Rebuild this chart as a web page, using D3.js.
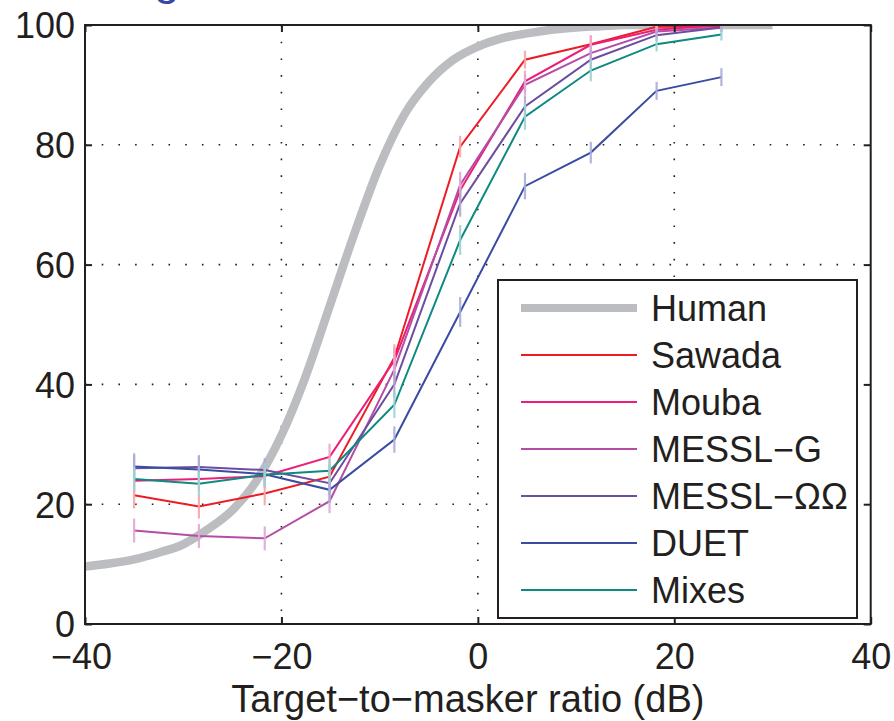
<!DOCTYPE html>
<html>
<head>
<meta charset="utf-8">
<script src="https://cdn.jsdelivr.net/npm/d3@7/dist/d3.min.js"></script>
<style>
  html, body { margin: 0; padding: 0; background: #fff; }
  svg text { font-family: "Liberation Sans", Arial, Helvetica, sans-serif; fill: #231f20; }
</style>
</head>
<body>
<svg id="chart" width="894" height="721"></svg>
<script>
// ---- data ----
const tmr = [-35, -28.4, -21.7, -15.1, -8.5, -1.8, 4.8, 11.5, 18.2, 24.8];
const sawada  = [21.5, 19.6, 21.8, 24.6, 44.5, 79.7, 94.2, 96.8, 99.7, 99.8];
const mouba   = [23.9, 24.2, 24.7, 27.9, 44.0, 72.4, 90.6, 96.7, 99.2, 100.0];
const messlG  = [15.6, 14.7, 14.3, 20.5, 42.5, 73.3, 90.0, 95.3, 98.9, 99.6];
const messlOO = [26.0, 26.2, 25.7, 23.5, 40.0, 70.2, 86.4, 94.2, 98.3, 99.6];
const duet    = [26.3, 25.8, 25.0, 22.4, 30.8, 52.1, 73.1, 78.7, 89.0, 91.3];
const mixes   = [24.2, 23.4, 24.9, 25.6, 36.6, 64.1, 84.7, 92.4, 96.8, 98.4];
const errSawada  = [2.2, 2.0, 2.0, 2.0, 2.2, 1.8, 1.5, 1.5, 0.8, 0.6];
const errMouba   = [2.0, 2.0, 2.0, 2.2, 2.2, 2.0, 1.8, 1.5, 0.8, 0.6];
const errMesslG  = [2.0, 2.0, 2.0, 2.0, 2.2, 2.2, 1.8, 1.5, 1.0, 0.8];
const errMesslOO = [2.2, 2.0, 2.0, 2.0, 2.2, 2.2, 1.8, 1.5, 1.0, 0.8];
const errDuet    = [2.2, 2.2, 2.0, 2.2, 2.2, 2.5, 2.2, 1.8, 1.5, 1.5];
const errMixes   = [2.0, 2.0, 2.0, 2.0, 2.2, 2.5, 2.2, 1.8, 1.2, 1.0];
const humanX = [-40, -37.5, -35, -32.5, -30, -27.5, -25, -22.5, -20, -17.5, -15, -12.5, -10, -7.5, -5, -2.5, 0, 2.5, 5, 7.5, 10, 12.5, 15, 20, 25, 30];
const humanY = [9.6, 10.1, 10.8, 11.9, 13.3, 15.8, 19.0, 24.0, 31.5, 41.5, 53.5, 65.5, 76.5, 85.0, 90.5, 94.2, 96.4, 97.8, 98.6, 99.2, 99.6, 99.8, 100, 100, 100, 100];
const seriesNames = ["Sawada", "Mouba", "MESSL\u2212G", "MESSL\u2212\u03A9\u03A9", "DUET", "Mixes"];
const xTicks = [-40, -20, 0, 20, 40];
const yTicks = [0, 20, 40, 60, 80, 100];
const xLabel = "Target\u2212to\u2212masker ratio (dB)";

// ---- styles ----
const colors    = ["#ed1c24", "#ec1e79", "#b44ea4", "#6c4d9f", "#3a4ca2", "#0f8a80"];
const barColors = ["#f6a6a8", "#f4a2c6", "#dfa8d6", "#b3a6d4", "#a7aedc", "#9dd3d3"];
const humanColor = "#bcbdc0";
const ink = "#231f20";

const svg = d3.select("#chart");
const L = 85, R = 870.7, T = 25, B = 624;
const x = d3.scaleLinear().domain([-40, 40]).range([L, R]);
const y = d3.scaleLinear().domain([0, 100]).range([B, T]);

// partial (cut-off) title glyph at top
svg.append("text").attr("x", 154).attr("y", -6)
  .style("font-size", "46px").style("fill", "#3a45a6").text("g");

svg.append("defs").append("clipPath").attr("id", "plotclip")
  .append("rect").attr("x", L).attr("y", T).attr("width", R - L).attr("height", B - T);

// grid
const grid = svg.append("g");
xTicks.filter(v => v > -40 && v < 40).forEach(v => {
  grid.append("line").attr("x1", x(v)).attr("x2", x(v)).attr("y1", T).attr("y2", B)
    .attr("stroke", ink).attr("stroke-width", 1.6).attr("stroke-dasharray", "1.6,15.1");
});
yTicks.filter(v => v > 0 && v < 100).forEach(v => {
  grid.append("line").attr("x1", L).attr("x2", R).attr("y1", y(v)).attr("y2", y(v))
    .attr("stroke", ink).attr("stroke-width", 1.6).attr("stroke-dasharray", "1.6,15.1");
});

const plot = svg.append("g").attr("clip-path", "url(#plotclip)");

// human curve
const line = d3.line().x(d => x(d[0])).y(d => y(d[1])).curve(d3.curveMonotoneX);
plot.append("path").datum(humanX.map((v, i) => [v, humanY[i]]))
  .attr("d", line).attr("fill", "none").attr("stroke", humanColor)
  .attr("stroke-width", 8.5).attr("stroke-linejoin", "round");

const seriesVals = [sawada, mouba, messlG, messlOO, duet, mixes];
const seriesErr = [errSawada, errMouba, errMesslG, errMesslOO, errDuet, errMixes];
const lin = d3.line().x(d => x(d[0])).y(d => y(d[1]));

seriesVals.forEach((vals, k) => {
  plot.append("path").datum(tmr.map((v, i) => [v, vals[i]]))
    .attr("d", lin).attr("fill", "none").attr("stroke", colors[k])
    .attr("stroke-width", 2).attr("stroke-linejoin", "miter");
});
seriesVals.forEach((vals, k) => {
  plot.append("g").selectAll("line").data(tmr).join("line")
    .attr("x1", d => x(d)).attr("x2", d => x(d))
    .attr("y1", (d, i) => y(vals[i] - seriesErr[k][i]))
    .attr("y2", (d, i) => y(vals[i] + seriesErr[k][i]))
    .attr("stroke", barColors[k]).attr("stroke-width", 2.2).attr("opacity", 0.9);
});

// axes (ticks inside on all four sides)
const fmt = d => d < 0 ? "\u2212" + Math.abs(d) : String(d);
const ax = svg.append("g").attr("transform", `translate(0,${B})`)
  .call(d3.axisBottom(x).tickValues(xTicks).tickSize(-7).tickPadding(19).tickFormat(fmt));
const ay = svg.append("g").attr("transform", `translate(${L},0)`)
  .call(d3.axisLeft(y).tickValues(yTicks).tickSize(-7).tickPadding(10).tickFormat(fmt));
const axT = svg.append("g").attr("transform", `translate(0,${T})`)
  .call(d3.axisTop(x).tickValues(xTicks).tickSize(-7).tickFormat(""));
const ayR = svg.append("g").attr("transform", `translate(${R},0)`)
  .call(d3.axisRight(y).tickValues(yTicks).tickSize(-7).tickFormat(""));
[ax, ay, axT, ayR].forEach(g => {
  g.select(".domain").remove();
  g.selectAll(".tick line").attr("stroke", ink).attr("stroke-width", 2);
  g.selectAll("text").style("font-size", "36px").style("fill", ink).attr("font-family", null);
});
ax.selectAll("text").attr("dy", "0.72em");
ax.selectAll(".tick").filter(d => d === -40).select("text").attr("dx", "-4");
ay.selectAll("text").attr("dy", "0.36em");

// legend
const lg = svg.append("g");
lg.append("rect").attr("x", 498).attr("y", 280).attr("width", 359).attr("height", 338)
  .attr("fill", "#fff").attr("stroke", ink).attr("stroke-width", 2);
const legNames = ["Human"].concat(seriesNames);
const legColors = [humanColor].concat(colors);
legNames.forEach((n, i) => {
  const yy = 308 + i * 47;
  lg.append("line").attr("x1", 521).attr("x2", 637).attr("y1", yy).attr("y2", yy)
    .attr("stroke", legColors[i]).attr("stroke-width", i === 0 ? 8 : 2);
  lg.append("text").attr("x", 651).attr("y", yy + 13).style("font-size", "36px").text(n);
});

// axes box
svg.append("rect").attr("x", L).attr("y", T).attr("width", R - L).attr("height", B - T)
  .attr("fill", "none").attr("stroke", ink).attr("stroke-width", 2);

// x label
svg.append("text").attr("x", (L + R) / 2 - 10).attr("y", 712).attr("text-anchor", "middle")
  .style("font-size", "38px").text(xLabel);
</script>
</body>
</html>
